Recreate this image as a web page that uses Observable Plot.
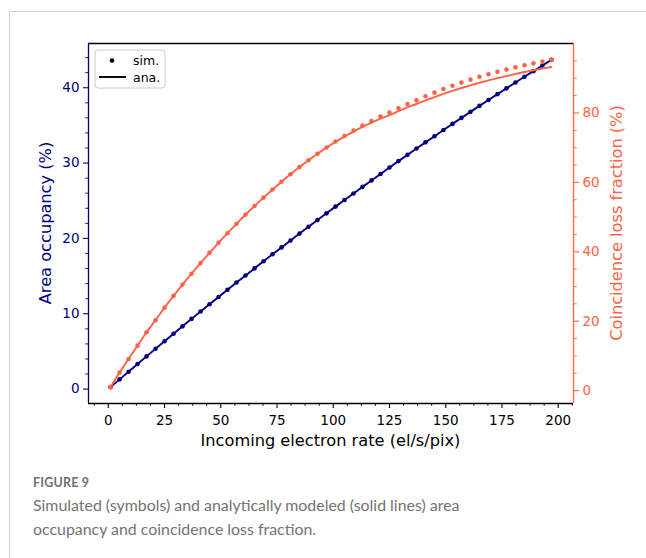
<!DOCTYPE html>
<html>
<head>
<meta charset="utf-8">
<script src="https://cdn.jsdelivr.net/npm/d3@7"></script>
<script src="https://cdn.jsdelivr.net/npm/@observablehq/plot@0.6"></script>
<style>
  html, body { margin: 0; padding: 0; background: #fff; }
  body { width: 646px; height: 558px; overflow: hidden; position: relative; }
  #card { position: absolute; left: 9px; top: 11px; width: 660px; height: 560px;
          border-top: 1px solid #cfcfcf; border-left: 1px solid #cfcfcf; }
  #chart { position: absolute; left: 0; top: 0; }
  #caption { position: absolute; left: 33px; top: 475px; font-family: Lato, "Open Sans", sans-serif; }
  #caption .fig { font-size: 12.5px; font-weight: 700; color: #707070; letter-spacing: 0.2px; line-height: 16px; }
  #caption .txt { font-size: 15.9px; color: #737373; line-height: 24px; margin-top: 2px; }
</style>
</head>
<body>
<div id="card"></div>
<div id="chart"></div>
<div id="caption">
  <div class="fig">FIGURE 9</div>
  <div class="txt">Simulated (symbols) and analytically modeled (solid lines) area<br>occupancy and coincidence loss fraction.</div>
</div>
<script>
// Incoming electron rate (el/s/pix) at which the simulation was sampled
const rate = [1, 5, 9, 13, 17, 21, 25, 29, 33, 37, 41, 45, 49, 53, 57, 61, 65, 69, 73, 77,
  81, 85, 89, 93, 97, 101, 105, 109, 113, 117, 121, 125, 129, 133, 137, 141, 145, 149, 153, 157,
  161, 165, 169, 173, 177, 181, 185, 189, 193, 197];

// Area occupancy (%), simulated and analytic
const occupancySim = [0.26, 1.29, 2.31, 3.33, 4.34, 5.35, 6.35, 7.34, 8.33, 9.32,
  10.29, 11.26, 12.23, 13.19, 14.14, 15.08, 16.02, 16.96, 17.89, 18.81,
  19.73, 20.64, 21.54, 22.44, 23.33, 24.22, 25.10, 25.97, 26.84, 27.70,
  28.56, 29.41, 30.26, 31.09, 31.93, 32.75, 33.57, 34.39, 35.20, 36.00,
  36.80, 37.59, 38.37, 39.15, 39.92, 40.69, 41.45, 42.20, 42.95, 43.70];
const occupancyAna = [0.26, 1.29, 2.31, 3.33, 4.34, 5.35, 6.35, 7.34, 8.33, 9.32,
  10.29, 11.26, 12.23, 13.19, 14.14, 15.08, 16.02, 16.96, 17.89, 18.81,
  19.73, 20.64, 21.54, 22.44, 23.33, 24.22, 25.10, 25.97, 26.84, 27.70,
  28.56, 29.41, 30.26, 31.09, 31.93, 32.75, 33.57, 34.39, 35.20, 36.00,
  36.80, 37.59, 38.37, 39.15, 39.92, 40.69, 41.45, 42.20, 42.95, 43.70];

// Coincidence loss fraction (%), simulated and analytic
const lossSim = [1.0, 5.2, 9.1, 12.95, 16.8, 20.3, 23.9, 27.3, 30.54, 33.68,
  36.74, 39.70, 42.58, 45.36, 48.06, 50.66, 53.18, 55.6, 57.94, 60.18,
  62.34, 64.4, 66.38, 68.26, 70.06, 71.76, 73.38, 74.9, 76.34, 77.68,
  78.94, 80.1, 81.35, 82.6, 83.65, 84.8, 85.86, 86.9, 87.85, 88.75,
  89.6, 90.4, 91.15, 91.85, 92.5, 93.15, 93.75, 94.3, 94.8, 95.3];
const lossAna = [1.0, 5.2, 9.1, 12.95, 16.8, 20.3, 23.9, 27.3, 30.54, 33.68,
  36.74, 39.70, 42.58, 45.36, 48.06, 50.66, 53.18, 55.6, 57.94, 60.18,
  62.34, 64.4, 66.38, 68.26, 70.01, 71.66, 73.20, 74.63, 75.97, 77.20,
  78.34, 79.38, 80.51, 81.64, 82.58, 83.62, 84.58, 85.52, 86.38, 87.2,
  87.97, 88.7, 89.39, 90.03, 90.63, 91.23, 91.79, 92.3, 92.77, 93.25];

// Tick values
const rateTicks = [0, 25, 50, 75, 100, 125, 150, 175, 200];
const occupancyTicks = [0, 10, 20, 30, 40];
const lossTicks = [0, 20, 40, 60, 80];

const navy = "#000080";
const tomato = "#ff6347";

// Autoscaled domains with 5% padding on each side
const pad = ([a, b]) => [a - 0.05 * (b - a), b + 0.05 * (b - a)];
const xDomain = pad(d3.extent(rate));
const occDomain = pad(d3.extent([...occupancySim, ...occupancyAna]));
const lossDomain = pad(d3.extent([...lossSim, ...lossAna]));

// The loss fraction shares the plot's y scale through a linear map onto the occupancy domain
const toLeft = d3.scaleLinear().domain(lossDomain).range(occDomain);

const occRows = rate.map((r, i) => ({rate: r, sim: occupancySim[i], ana: occupancyAna[i]}));
const lossRows = rate.map((r, i) => ({rate: r, sim: toLeft(lossSim[i]), ana: toLeft(lossAna[i])}));

// Minor ticks
const inside = (dom) => (v) => v > dom[0] && v < dom[1];
const rateMinor = d3.range(-50, 250, 6.25).filter(inside(xDomain)).filter(v => v % 25 !== 0);
const occMinor = d3.range(-10, 60, 2).filter(inside(occDomain)).filter(v => v % 10 !== 0);
const lossMinor = d3.range(-10, 110, 5).filter(inside(lossDomain)).filter(v => v % 20 !== 0);

const W = 646, H = 460;
const mL = 88, mR = 73, mT = 43, mB = 57;

const chart = Plot.plot({
  width: W, height: H,
  marginLeft: mL, marginRight: mR, marginTop: mT, marginBottom: mB,
  style: {background: "transparent", fontFamily: "'DejaVu Sans', sans-serif", overflow: "visible"},
  x: {domain: xDomain},
  y: {domain: occDomain},
  marks: [
    Plot.axisX(rateTicks, {tickSize: 5, tickPadding: 6.5, tickFormat: d => String(d), color: "black", label: null, strokeWidth: 1.1}),
    Plot.axisX(rateMinor, {tickSize: 2.8, tickFormat: () => "", color: "black", label: null, strokeWidth: 0.9}),
    Plot.axisY(occupancyTicks, {anchor: "left", tickSize: 5, tickPadding: 4, tickFormat: d => String(d), color: navy, label: null, strokeWidth: 1.1}),
    Plot.axisY(occMinor, {anchor: "left", tickSize: 2.8, tickFormat: () => "", color: navy, label: null, strokeWidth: 0.9}),
    Plot.axisY(lossTicks.map(v => toLeft(v)), {anchor: "right", tickSize: 5, tickPadding: 4,
      tickFormat: d => String(Math.round(toLeft.invert(d))), color: tomato, label: null, strokeWidth: 1.1}),
    Plot.axisY(lossMinor.map(v => toLeft(v)), {anchor: "right", tickSize: 2.8, tickFormat: () => "", color: tomato, label: null, strokeWidth: 0.9}),

    // area occupancy
    Plot.line(occRows, {x: "rate", y: "ana", stroke: navy, strokeWidth: 1.9}),
    Plot.dot(occRows, {x: "rate", y: "sim", r: 2.3, fill: navy, stroke: "none"}),
    // coincidence loss fraction
    Plot.line(lossRows, {x: "rate", y: "ana", stroke: tomato, strokeWidth: 1.9, curve: "monotone-x"}),
    Plot.dot(lossRows, {x: "rate", y: "sim", r: 2.3, fill: tomato, stroke: "none"}),

    // spines
    Plot.ruleY([occDomain[0]], {stroke: "black", strokeWidth: 1.3}),
    Plot.ruleY([occDomain[1]], {stroke: "black", strokeWidth: 1.3}),
    Plot.ruleX([xDomain[0]], {stroke: navy, strokeWidth: 1.3}),
    Plot.ruleX([xDomain[1]], {stroke: tomato, strokeWidth: 1.3})
  ]
});

document.getElementById("chart").appendChild(chart);

const svg = d3.select(chart.tagName.toLowerCase() === "svg" ? chart : chart.querySelector("svg"));
const font = "'DejaVu Sans', sans-serif";

// Tick labels at matplotlib's default size (every text Plot drew so far is a tick label)
svg.selectAll("text")
  .attr("font-size", 13.5)
  .style("font-size", "13.5px")
  .style("font-family", font);

// Axis titles
const cy = (mT + H - mB) / 2;
svg.append("text")
  .attr("transform", `translate(45,${cy}) rotate(-90)`)
  .attr("text-anchor", "middle").attr("dominant-baseline", "central")
  .attr("fill", navy).style("font-family", font).style("font-size", "16.2px")
  .text("Area occupancy (%)");

svg.append("text")
  .attr("transform", `translate(616,${cy}) rotate(-90)`)
  .attr("text-anchor", "middle").attr("dominant-baseline", "central")
  .attr("fill", tomato).style("font-family", font).style("font-size", "16.2px")
  .text("Coincidence loss fraction (%)");

svg.append("text")
  .attr("x", (mL + W - mR) / 2).attr("y", 446)
  .attr("text-anchor", "middle")
  .attr("fill", "black").style("font-family", font).style("font-size", "16.2px")
  .text("Incoming electron rate (el/s/pix)");

// Legend
const lg = svg.append("g").attr("transform", `translate(${mL + 7},${mT + 7})`);
lg.append("rect").attr("width", 70).attr("height", 38).attr("rx", 3)
  .attr("fill", "white").attr("fill-opacity", 0.8).attr("stroke", "#cccccc");
lg.append("circle").attr("cx", 17).attr("cy", 10.5).attr("r", 2.3).attr("fill", "black");
lg.append("text").attr("x", 38).attr("y", 15).attr("text-anchor", "start")
  .style("font-family", font).style("font-size", "12.5px").text("sim.");
lg.append("line").attr("x1", 4).attr("x2", 31).attr("y1", 27).attr("y2", 27)
  .attr("stroke", "black").attr("stroke-width", 1.9);
lg.append("text").attr("x", 38).attr("y", 31.5).attr("text-anchor", "start")
  .style("font-family", font).style("font-size", "12.5px").text("ana.");
</script>
</body>
</html>
